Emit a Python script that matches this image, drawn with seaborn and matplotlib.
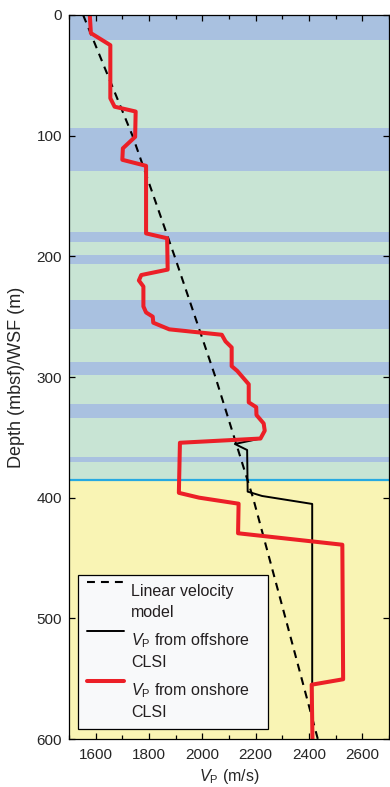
import numpy as np
import pandas as pd
import matplotlib
matplotlib.use("Agg")
import matplotlib.pyplot as plt
from matplotlib.lines import Line2D
from matplotlib.legend_handler import HandlerLine2D
from matplotlib.ticker import MultipleLocator
import seaborn as sns

# ---- data -------------------------------------------------------------
# Onshore CLSI velocity profile (depth in m, Vp in m/s)
onshore_depth = [0, 15, 25, 69, 76, 80, 101, 110.5, 120, 125, 181, 185,
                 211, 215.5, 220, 225, 241.5, 246.5, 250, 255, 260.5, 265,
                 270.5, 275.5, 291, 295, 306, 321, 325, 331.5, 338.5, 344.5,
                 351, 354.5, 396, 400, 405, 429.5, 439, 550.5, 555, 600]
onshore_vp = [1578, 1582, 1655, 1655, 1671, 1750, 1748, 1702, 1700, 1789,
              1789, 1868, 1870, 1771, 1762, 1779, 1779, 1789, 1814, 1816,
              1876, 2073, 2087, 2110, 2110, 2131, 2174, 2174, 2202, 2203,
              2230, 2234, 2218, 1916, 1912, 1988, 2136, 2134, 2525, 2528,
              2410, 2413]

# Offshore CLSI velocity profile
offshore_depth = [0, 15, 25, 69, 76, 80, 101, 110.5, 120, 125, 181, 185,
                  211, 215.5, 220, 225, 241.5, 246.5, 250, 255, 260.5, 265,
                  270.5, 275.5, 291, 295, 306, 321, 325, 331.5, 338.5, 344.5,
                  351, 355.5, 360.5, 395, 398.6, 405.2, 600]
offshore_vp = [1578, 1582, 1655, 1655, 1671, 1750, 1748, 1702, 1700, 1789,
               1789, 1868, 1870, 1771, 1762, 1779, 1779, 1789, 1814, 1816,
               1876, 2073, 2087, 2110, 2110, 2131, 2174, 2174, 2202, 2203,
               2230, 2234, 2218, 2122, 2168, 2170, 2224, 2412, 2412]

# Linear velocity model
model_depth = [0, 100, 200, 300, 400, 500, 600]
model_vp = [1553, 1738, 1896, 2049, 2190, 2312, 2433]

# Lithologic intervals
blue_top = [0, 93.6, 179.6, 199.2, 236.2, 287.6, 322.4, 366.6]
blue_bottom = [20.7, 129.3, 187.9, 206.1, 260.0, 298.3, 333.7, 370.4]
boundary_depth = 385.3

x_ticks = [1600, 1800, 2000, 2200, 2400, 2600]
y_ticks = [0, 100, 200, 300, 400, 500, 600]

legend_labels = ["Linear velocity\nmodel",
                 "$V_\\mathrm{P}$ from offshore\nCLSI",
                 "$V_\\mathrm{P}$ from onshore\nCLSI"]

# ---- style ------------------------------------------------------------
sns.set_style("ticks")
plt.rcParams["font.family"] = ["Liberation Sans", "DejaVu Sans"]
plt.rcParams["mathtext.fontset"] = "custom"
plt.rcParams["mathtext.rm"] = "Liberation Sans"
plt.rcParams["mathtext.it"] = "Liberation Sans:italic"
plt.rcParams["text.color"] = "#231f20"

RED = "#ec1f27"
BLUE = "#a9c1e0"
GREEN = "#c8e4d4"
YELLOW = "#f9f4b4"
CYAN = "#27a9e1"
DASH = (0, (3.8, 2.9))

fig = plt.figure(figsize=(3.9, 7.87), dpi=100)
ax = fig.add_axes([69 / 390, 48 / 787, 320 / 390, 724 / 787])

# background intervals
ax.axhspan(0, boundary_depth, color=GREEN, lw=0, zorder=0)
ax.axhspan(boundary_depth, 600, color=YELLOW, lw=0, zorder=0)
for t, b in zip(blue_top, blue_bottom):
    ax.axhspan(t, b, color=BLUE, lw=0, zorder=0.5)
ax.axhline(boundary_depth, color=CYAN, lw=1.6, zorder=0.8)

# velocity curves
sns.lineplot(x=model_vp, y=model_depth, sort=False, estimator=None,
             color="black", lw=1.5, linestyle=DASH, ax=ax, zorder=3)
sns.lineplot(x=offshore_vp, y=offshore_depth, sort=False, estimator=None,
             color="black", lw=1.4, ax=ax, zorder=4)
sns.lineplot(x=onshore_vp, y=onshore_depth, sort=False, estimator=None,
             color=RED, lw=2.9, ax=ax, zorder=5)

ax.set_xlim(1500, 2700)
ax.set_ylim(600, 0)
ax.set_xticks(x_ticks)
ax.xaxis.set_minor_locator(MultipleLocator(100))
ax.set_yticks(y_ticks)
ax.tick_params(which="both", direction="in", top=True, right=True,
               color="black", width=0.9)
ax.tick_params(which="major", length=4.5, labelsize=11)
ax.tick_params(which="minor", length=2.6)
ax.tick_params(axis="x", pad=6.5)
ax.tick_params(axis="y", pad=5)
for s in ax.spines.values():
    s.set_linewidth(0.9)
    s.set_color("black")
    s.set_zorder(6)

ax.set_xlabel("$V_\\mathrm{P}$ (m/s)", fontsize=11.5)
ax.set_ylabel("Depth (mbsf)/WSF (m)", fontsize=13)
ax.xaxis.set_label_coords(0.5, -0.039)
ax.yaxis.set_label_coords(-0.138, 0.5)


class FirstLineHandler(HandlerLine2D):
    """Line handle aligned with the first line of a two-line label."""

    def __init__(self, shift, **kw):
        super().__init__(**kw)
        self.shift = shift

    def create_artists(self, legend, orig_handle, xdescent, ydescent,
                       width, height, fontsize, trans):
        arts = super().create_artists(legend, orig_handle, xdescent, ydescent,
                                      width, height, fontsize, trans)
        for a in arts:
            a.set_ydata(np.asarray(a.get_ydata()) + self.shift)
        return arts


fs = 11.5
handles = [Line2D([], [], color="black", lw=1.5, linestyle=DASH),
           Line2D([], [], color="black", lw=1.4),
           Line2D([], [], color=RED, lw=2.9)]
leg = ax.legend(handles, legend_labels, loc="lower left",
                bbox_to_anchor=(0.029, 0.0138, 0.594, 0.2), mode="expand",
                fontsize=fs, handlelength=2.3, handletextpad=0.46,
                borderpad=0.55, labelspacing=0.7, borderaxespad=0,
                fancybox=False, framealpha=1, facecolor="#f8f9fa",
                edgecolor="black",
                handler_map={Line2D: FirstLineHandler(shift=1.27 * fs)})
leg.get_frame().set_linewidth(0.9)
leg.set_zorder(7)
for t in leg.get_texts():
    t.set_linespacing(1.45)

fig.savefig("out.png", dpi=100)
